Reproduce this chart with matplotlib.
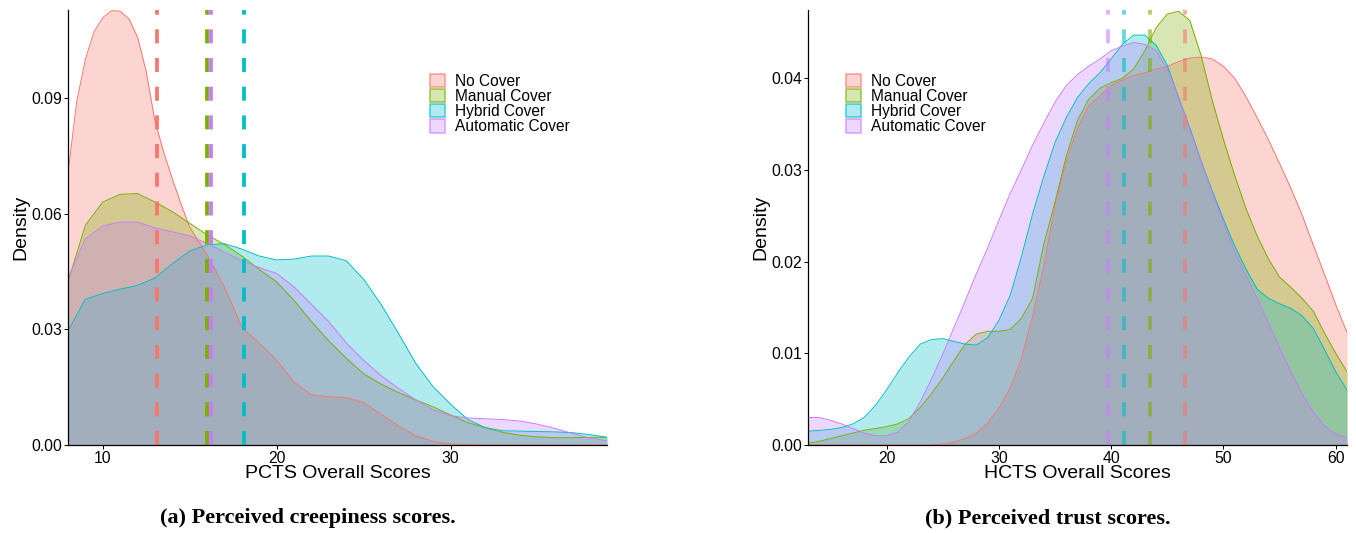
import matplotlib
matplotlib.use('Agg')
import matplotlib.pyplot as plt
from matplotlib.patches import Patch
from matplotlib.colors import to_rgba

plt.rcParams['font.family'] = ['Liberation Sans', 'DejaVu Sans']

# --- groups and ggplot-style colours ---
GROUPS = ['No Cover', 'Manual Cover', 'Hybrid Cover', 'Automatic Cover']
COLORS = ['#F8766D', '#7CAE00', '#00BFC4', '#C77CFF']

# --- (a) PCTS density curves ---
PCTS_X = list(range(8, 40))
PCTS_NO_X = [8, 8.5, 9, 9.5, 10, 10.5, 11, 11.5, 12, 12.5, 13, 13.5, 14, 14.5, 15] + list(range(16, 40))
PCTS_NO = [0.0705, 0.0890, 0.1000, 0.1072, 0.1108, 0.1126, 0.1125, 0.1105, 0.1058, 0.0968,
           0.0840, 0.0760, 0.0690, 0.0625, 0.0565,
           0.0493, 0.0410, 0.0305, 0.0264, 0.0220, 0.0163, 0.0130, 0.0125, 0.0123, 0.0110,
           0.0080, 0.0050, 0.0024, 0.0009, 0.0003, 0.0001, 0, 0, 0, 0, 0, 0, 0, 0]
PCTS_MANUAL = [0.0423, 0.0570, 0.0630, 0.0650, 0.0652, 0.0630, 0.0605, 0.0575, 0.0545, 0.0520,
               0.0490, 0.0455, 0.0423, 0.0375, 0.0320, 0.0270, 0.0225, 0.0185, 0.0158, 0.0136,
               0.0117, 0.0099, 0.0078, 0.0058, 0.0045, 0.0033, 0.0025, 0.0021, 0.0019, 0.0019,
               0.0020, 0.0020]
PCTS_HYBRID = [0.0296, 0.0378, 0.0393, 0.0404, 0.0414, 0.0433, 0.0470, 0.0503, 0.0519, 0.0522,
               0.0508, 0.0490, 0.0480, 0.0482, 0.0490, 0.0490, 0.0478, 0.0430, 0.0365, 0.0290,
               0.0212, 0.0151, 0.0106, 0.0066, 0.0045, 0.0037, 0.0036, 0.0035, 0.0034, 0.0032,
               0.0027, 0.0020]
PCTS_AUTO = [0.0433, 0.0535, 0.0568, 0.0578, 0.0578, 0.0563, 0.0553, 0.0542, 0.0523, 0.0500,
             0.0478, 0.0460, 0.0445, 0.0410, 0.0365, 0.0320, 0.0265, 0.0220, 0.0180, 0.0147,
             0.0117, 0.0091, 0.0076, 0.0070, 0.0068, 0.0066, 0.0062, 0.0054, 0.0043, 0.0030,
             0.0018, 0.0011]
PCTS_MEANS = [13.1, 15.97, 18.11, 16.25]

# --- (b) HCTS density curves ---
HCTS_X = list(range(13, 62))
HCTS_NO = [0, 0, 0, 0, 0, 0, 0, 0, 0, 0, 0, 0,
           0.0001, 0.0003, 0.0007, 0.0013, 0.0024, 0.0040, 0.0062, 0.0094, 0.0140, 0.0195,
           0.0262, 0.0310, 0.0345, 0.0370, 0.0381, 0.0392, 0.0398, 0.0403, 0.0406, 0.0410,
           0.0413, 0.0418, 0.0422, 0.0423, 0.0421, 0.0413, 0.0400, 0.0380, 0.0357, 0.0333,
           0.0307, 0.0280, 0.0251, 0.0218, 0.0186, 0.0153, 0.0123]
HCTS_MANUAL = [0.0002, 0.0004, 0.0007, 0.0010, 0.0013, 0.0016, 0.0018, 0.0020, 0.0023, 0.0029,
               0.0041, 0.0056, 0.0073, 0.0092, 0.0110, 0.0121, 0.0124, 0.0124, 0.0126, 0.0138,
               0.0160, 0.0219, 0.0265, 0.0315, 0.0354, 0.0377, 0.0389, 0.0395, 0.0400, 0.0410,
               0.0430, 0.0455, 0.0470, 0.0473, 0.0463, 0.0425, 0.0376, 0.0333, 0.0294, 0.0258,
               0.0228, 0.0203, 0.0183, 0.0172, 0.0160, 0.0146, 0.0122, 0.0100, 0.0080]
HCTS_HYBRID = [0.0015, 0.0016, 0.0017, 0.0019, 0.0023, 0.0030, 0.0043, 0.0060, 0.0079, 0.0096,
               0.0110, 0.0115, 0.0116, 0.0113, 0.0110, 0.0109, 0.0117, 0.0136, 0.0163, 0.0205,
               0.0252, 0.0293, 0.0330, 0.0357, 0.0379, 0.0394, 0.0406, 0.0421, 0.0437, 0.0447,
               0.0447, 0.0436, 0.0414, 0.0379, 0.0346, 0.0310, 0.0277, 0.0246, 0.0217, 0.0192,
               0.0170, 0.0160, 0.0154, 0.0149, 0.0141, 0.0127, 0.0104, 0.0080, 0.0060]
HCTS_AUTO = [0.0030, 0.0030, 0.0027, 0.0023, 0.0018, 0.0013, 0.0010, 0.0010, 0.0014, 0.0026,
             0.0047, 0.0072, 0.0099, 0.0128, 0.0157, 0.0187, 0.0215, 0.0245, 0.0274, 0.0300,
             0.0327, 0.0351, 0.0374, 0.0392, 0.0404, 0.0413, 0.0421, 0.0430, 0.0435, 0.0439,
             0.0437, 0.0430, 0.0410, 0.0380, 0.0344, 0.0309, 0.0275, 0.0242, 0.0211, 0.0185,
             0.0160, 0.0133, 0.0106, 0.0080, 0.0056, 0.0036, 0.0021, 0.0012, 0.0008]
HCTS_MEANS = [46.54, 43.5, 41.13, 39.74]

PCTS_TICKS_X = [10, 20, 30]
PCTS_TICKS_Y = [0.00, 0.03, 0.06, 0.09]
HCTS_TICKS_X = [20, 30, 40, 50, 60]
HCTS_TICKS_Y = [0.00, 0.01, 0.02, 0.03, 0.04]


def density_panel(ax, xs, ys, means, xlim, ylim, xticks, yticks, xlabel, mean_alpha, legend_x):
    for x, y, c in zip(xs, ys, COLORS):
        ax.fill_between(x, 0, y, color=c, alpha=0.3, lw=0)
        ax.plot(x, y, color=c, lw=0.7)
    for m, c in zip(means, COLORS):
        ax.axvline(m, color=c, lw=2.7, alpha=mean_alpha, linestyle=(0, (3.75, 3.9)))

    ax.set_xlim(*xlim)
    ax.set_ylim(*ylim)
    ax.set_xticks(xticks)
    ax.set_yticks(yticks)
    ax.set_yticklabels([f'{v:.2f}' for v in yticks])
    ax.tick_params(labelsize=11.3, length=3, width=0.7, pad=1.5, colors='black')
    for s in ['top', 'right']:
        ax.spines[s].set_visible(False)
    for s in ['left', 'bottom']:
        ax.spines[s].set_linewidth(0.9)
    ax.set_xlabel(xlabel, fontsize=14)
    ax.set_ylabel('Density', fontsize=14)
    ax.xaxis.set_label_coords(0.5, -0.047)
    ax.yaxis.set_label_coords(-0.071, 0.5)

    handles = [Patch(facecolor=to_rgba(c, 0.3), edgecolor=to_rgba(c, 0.7), lw=1.1) for c in COLORS]
    ax.legend(handles, GROUPS, loc='upper left', bbox_to_anchor=(legend_x, 0.853),
              frameon=False, fontsize=11.2, handlelength=0.95, handleheight=0.95,
              labelspacing=0.0, handletextpad=0.65, borderpad=0, borderaxespad=0)


fig = plt.figure(figsize=(13.56, 5.33), dpi=100)
ax1 = fig.add_axes([68 / 1356, 88 / 533, 539 / 1356, 435 / 533])
ax2 = fig.add_axes([808 / 1356, 88 / 533, 539 / 1356, 435 / 533])

density_panel(ax1,
              [PCTS_NO_X, PCTS_X, PCTS_X, PCTS_X],
              [PCTS_NO, PCTS_MANUAL, PCTS_HYBRID, PCTS_AUTO],
              PCTS_MEANS, (8, 39), (0, 0.1128), PCTS_TICKS_X, PCTS_TICKS_Y,
              'PCTS Overall Scores', 1.0, 0.672)
density_panel(ax2,
              [HCTS_X] * 4,
              [HCTS_NO, HCTS_MANUAL, HCTS_HYBRID, HCTS_AUTO],
              HCTS_MEANS, (13, 61), (0, 0.04744), HCTS_TICKS_X, HCTS_TICKS_Y,
              'HCTS Overall Scores', 0.6, 0.0705)

cap = dict(ha='center', va='baseline', fontsize=16, fontweight='bold',
           family=['Liberation Serif', 'DejaVu Serif'])
fig.text(308 / 1356, 10 / 533, '(a) Perceived creepiness scores.', **cap)
fig.text(1048 / 1356, 10 / 533, '(b) Perceived trust scores.', **cap)

fig.savefig('out.png', dpi=100)
